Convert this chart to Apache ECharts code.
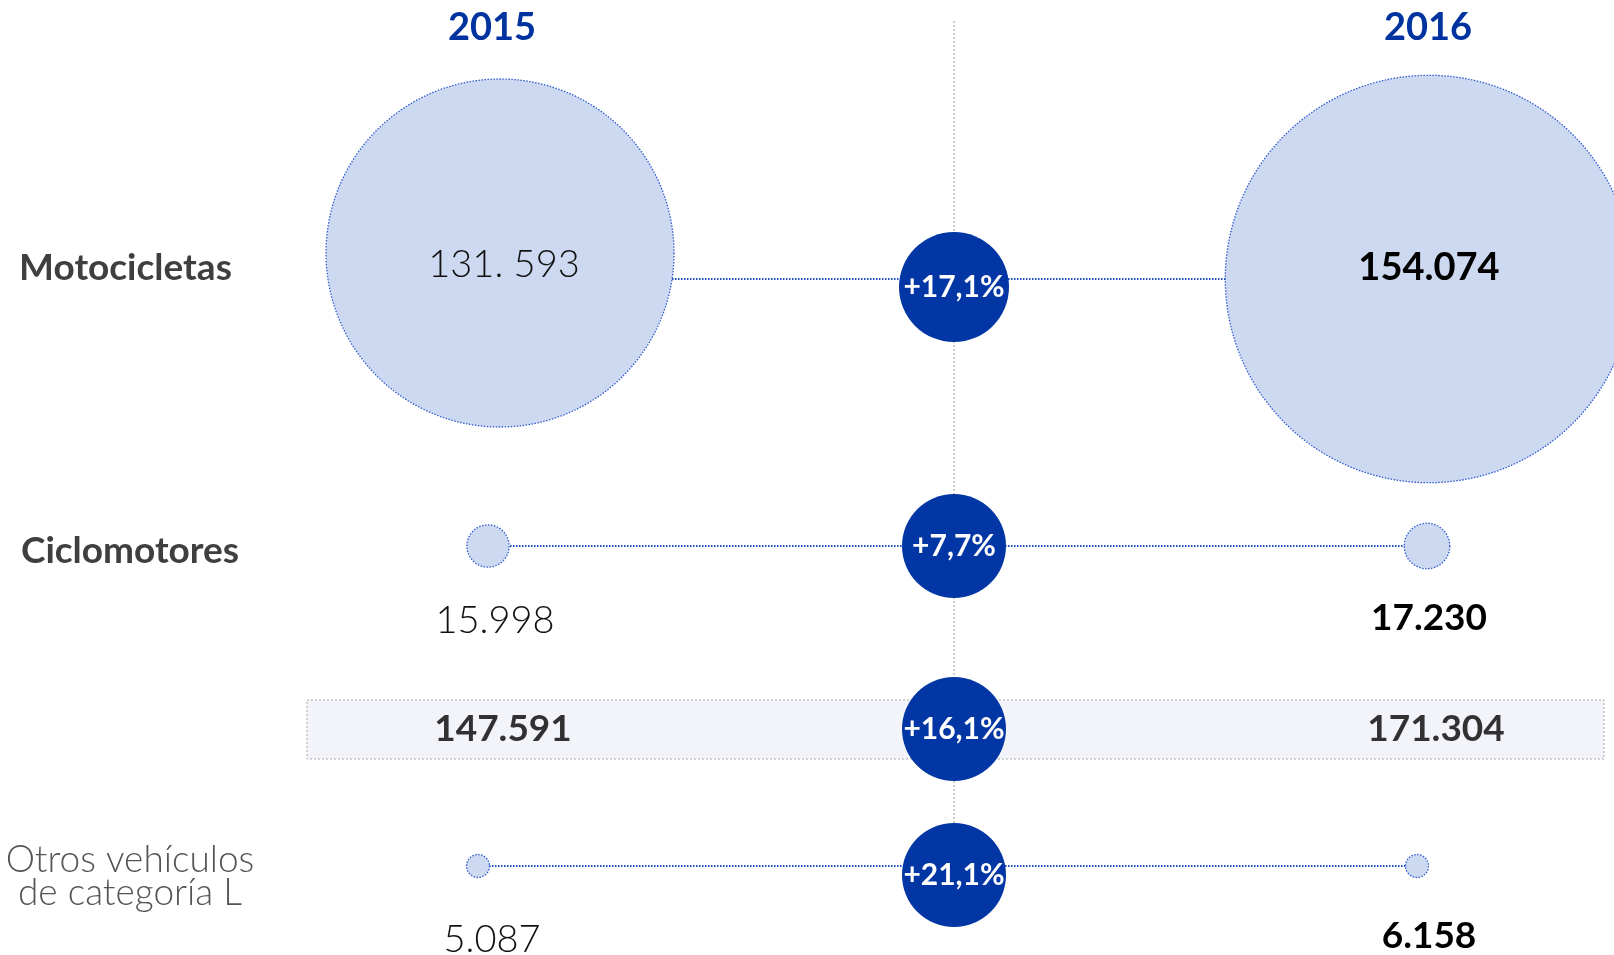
<!DOCTYPE html>
<html><head><meta charset="utf-8">
<script src="https://cdn.jsdelivr.net/npm/echarts@6/dist/echarts.min.js"></script>
<style>html,body{margin:0;padding:0;background:#fff}#c{width:1614px;height:955px}</style>
</head><body><div id="c"></div>
<script>
// ---- data ----
const years = ['2015', '', '2016'];
const rows = ['Motocicletas', 'Ciclomotores', '', 'Otros vehículos\nde categoría L'];
const values2015 = [131593, 15998, 147591, 5087];
const values2016 = [154074, 17230, 171304, 6158];
const changePct = [17.1, 7.7, 16.1, 21.1];

// ---- layout / style ----
const L = 252, W = 1404;
const rowCenters = [279, 546, 729, 866];
const rowH = 100;
const BLUE = '#0236a4';
const FONT = 'Lato, "Noto Sans", sans-serif';
const sizeK = 348 / 131593;

const fmt = v => String(v).replace(/\B(?=(\d{3})+(?!\d))/g, '.');
const fmtPct = p => (p >= 0 ? '+' : '') + p.toFixed(1).replace('.', ',') + '%';

const grids = [], xAxes = [], yAxes = [], series = [];
rows.forEach((name, r) => {
  grids.push({left: L, width: W, top: rowCenters[r] - rowH / 2, height: rowH,
    containLabel: false, outerBoundsMode: 'none'});
  const isTop = r === 0;
  xAxes.push({
    type: 'category', gridIndex: r, data: years,
    position: isTop ? 'top' : 'bottom',
    axisLine: {show: false}, axisTick: {show: false}, splitLine: {show: false},
    axisLabel: isTop ? {show: true, margin: 182, fontFamily: FONT,
      formatter: v => v ? '{h|' + v + '}' : '',
      rich: {h: {color: '#0033a0', fontFamily: FONT, fontWeight: 'bold', fontSize: 38, padding: [0, 0, 0, 12]}}
    } : {show: false}
  });
  const rich = {
    0: {fontWeight: 'bold', fontSize: 37, color: '#3f3f3f', padding: [0, 9, 22, 0]},
    1: {fontWeight: 'bold', fontSize: 37, color: '#3f3f3f', padding: [10, 0, 0, 0]},
    2: {},
    3: {fontWeight: 300, fontSize: 37, lineHeight: 33, color: '#555555', padding: [22, 0, 0, 0], align: 'center'}
  }[r];
  yAxes.push({
    type: 'category', gridIndex: r, data: [name],
    axisLine: {show: false}, axisTick: {show: false}, splitLine: {show: false},
    axisLabel: {show: r !== 2, margin: 122, align: 'center', fontFamily: FONT,
      formatter: v => '{t|' + v.split('\n').join('}\n{t|') + '}',
      rich: {t: Object.assign({fontFamily: FONT}, rich)}}
  });

  if (r !== 2) {
    // connector
    series.push({
      type: 'line', xAxisIndex: r, yAxisIndex: r, z: 1, silent: true,
      symbol: 'none',
      lineStyle: {color: '#1f4fc0', width: 2, type: [1.5, 1.5]},
      data: [[0, 0], [2, 0]]
    });
    // bubbles
    const lab15 = r === 0
      ? {position: 'inside', fontWeight: 300, fontSize: 38, color: '#111', offset: [4, 12],
         formatter: p => fmt(p.value[2]).replace('.', '. ')}
      : {position: 'inside', fontWeight: 300, fontSize: 38, color: '#111', offset: r === 1 ? [7, 75] : [14, 74]};
    const lab16 = r === 0
      ? {position: 'inside', fontWeight: 'bold', fontSize: 38, color: '#000', offset: [0, -11]}
      : {position: 'inside', fontWeight: 'bold', fontSize: 37, color: '#000', offset: r === 1 ? [2, 72] : [12, 70]};
    series.push({
      type: 'scatter', xAxisIndex: r, yAxisIndex: r, z: 3,
      symbolSize: v => Math.max(v[2] * sizeK, 23),
      itemStyle: {color: '#cdd9f0', borderColor: '#2f5bd0', borderWidth: 1.3, borderType: [1.5, 1.5], opacity: 1},
      label: {show: true, fontFamily: FONT, formatter: p => fmt(p.value[2])},
      emphasis: {disabled: true},
      data: [
        {value: [0, 0, values2015[r]], label: lab15,
         symbolOffset: r === 0 ? [14, -26] : (r === 1 ? [2, 0] : [-8, 0])},
        {value: [2, 0, values2016[r]], label: lab16,
         symbolOffset: r === 0 ? [7, 0] : (r === 1 ? [5, 0] : [-5, 0])}
      ]
    });
  } else {
    // totals as text
    series.push({
      type: 'scatter', xAxisIndex: r, yAxisIndex: r, z: 3, symbolSize: 1,
      itemStyle: {color: 'transparent'},
      label: {show: true, position: 'inside', fontFamily: FONT, fontWeight: 'bold', fontSize: 37,
        color: '#000', formatter: p => fmt(p.value[2])},
      emphasis: {disabled: true},
      data: [
        {value: [0, 0, values2015[r]], label: {offset: [17, 0]}},
        {value: [2, 0, values2016[r]], label: {offset: [14, 0]}}
      ]
    });
  }
  // change circle
  series.push({
    type: 'scatter', xAxisIndex: r, yAxisIndex: r, z: 5,
    symbolSize: r === 0 ? 110 : 104,
    symbolOffset: r === 0 ? [0, 8] : (r === 3 ? [0, 9] : [0, 0]),
    itemStyle: {color: BLUE, opacity: 1},
    label: {show: true, position: 'inside', fontFamily: FONT, fontWeight: 'bold', fontSize: 30,
      color: '#fff', formatter: p => fmtPct(p.value[2])},
    emphasis: {disabled: true},
    data: [[1, 0, changePct[r]]]
  });
});

const chart = echarts.init(document.getElementById('c'), null, {renderer: 'canvas'});
const midX = L + W / 2;
chart.setOption({
  animation: false,
  backgroundColor: '#fff',
  grid: grids, xAxis: xAxes, yAxis: yAxes, series: series,
  graphic: [
    {type: 'rect', z: -10, shape: {x: 307, y: 700, width: 1297, height: 59},
     style: {fill: '#f3f4f9', stroke: '#a8a8a8', lineWidth: 1, lineDash: [2, 2]}},
    {type: 'line', z: -5, shape: {x1: midX, y1: 21, x2: midX, y2: 850},
     style: {stroke: '#9a9a9a', lineWidth: 1, lineDash: [2, 2]}}
  ]
});
</script></body></html>
